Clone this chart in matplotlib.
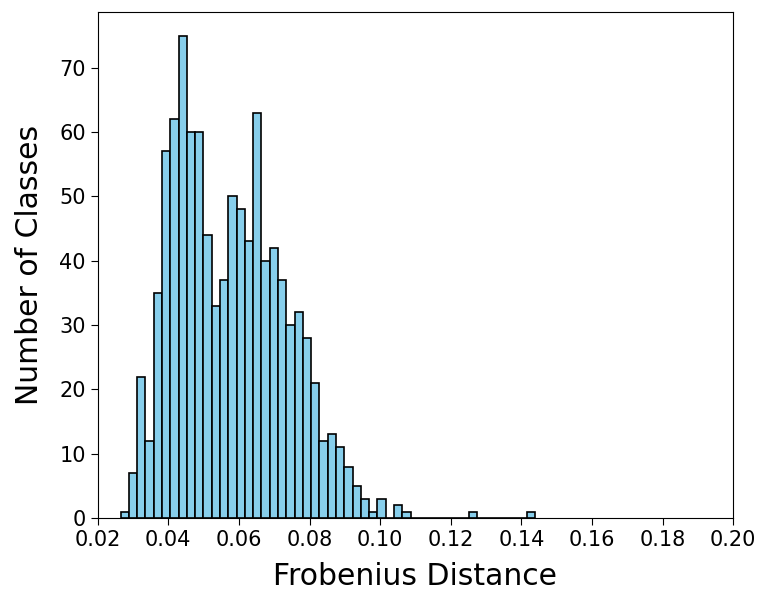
import numpy as np
import matplotlib.pyplot as plt

# Histogram of Frobenius distances (50 bins, counts)
bin_lo, bin_hi = 0.0265, 0.1438
counts = [1, 7, 22, 12, 35, 57, 62, 75, 60, 60,
          44, 33, 37, 50, 48, 43, 63, 40, 42, 37,
          30, 32, 28, 21, 12, 13, 11, 8, 5, 3,
          1, 3, 0, 2, 1, 0, 0, 0, 0, 0,
          0, 0, 1, 0, 0, 0, 0, 0, 0, 1]
x_ticks = [0.02, 0.04, 0.06, 0.08, 0.10, 0.12, 0.14, 0.16, 0.18, 0.20]

edges = np.linspace(bin_lo, bin_hi, len(counts) + 1)

fig = plt.figure(figsize=(7.63, 5.91), dpi=100)
ax = fig.add_axes([0.128, 0.1235, 0.833, 0.857])

ax.hist(edges[:-1], bins=edges, weights=counts, color="skyblue",
        edgecolor="black", linewidth=1.2)

ax.set_xlim(0.02, 0.20)
ax.set_xticks(x_ticks)
ax.set_xticklabels([f"{t:.2f}" for t in x_ticks])
ax.tick_params(labelsize=15, length=5)
ax.set_xlabel("Frobenius Distance", fontsize=21.5, labelpad=9)
ax.set_ylabel("Number of Classes", fontsize=21.5, labelpad=11)

plt.savefig("out.png", dpi=100)
plt.close()
